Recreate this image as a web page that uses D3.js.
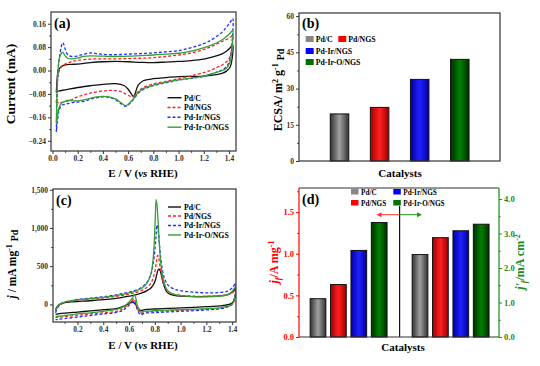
<!DOCTYPE html>
<html><head><meta charset="utf-8">
<script src="https://cdn.jsdelivr.net/npm/d3@7"></script>
<style>
body{margin:0;background:#fff}
svg{font-family:"Liberation Serif","Times New Roman",serif;font-weight:bold}
</style></head><body>
<svg width="540" height="366"></svg>
<script>
// ---------- DATA ----------
const seriesNames = ["Pd/C", "Pd/NGS", "Pd-Ir/NGS", "Pd-Ir-O/NGS"];
const seriesColors = ["#111111", "#ff2020", "#2030ff", "#35a035"];
const seriesDash = [null, "3,2", "3,2", null];

// (a) CV in KOH, [E, I(mA)] forward then reverse
const aPdC = [[0.03,-0.075],[0.035,-0.04],[0.04,-0.012],[0.05,0.004],[0.07,0.014],[0.1,0.019],[0.15,0.021],[0.2,0.022],[0.3,0.027],[0.4,0.03],[0.5,0.031],[0.6,0.03],[0.7,0.028],[0.8,0.027],[0.9,0.029],[1.0,0.031],[1.1,0.034],[1.2,0.039],[1.25,0.044],[1.3,0.05],[1.35,0.058],[1.38,0.066],[1.41,0.078],[1.43,0.088],
  [1.425,0.04],[1.41,0.012],[1.38,-0.002],[1.35,-0.009],[1.3,-0.014],[1.2,-0.019],[1.1,-0.02],[1.0,-0.021],[0.9,-0.024],[0.8,-0.028],[0.72,-0.035],[0.68,-0.05],[0.655,-0.08],[0.645,-0.09],[0.63,-0.083],[0.6,-0.064],[0.57,-0.052],[0.5,-0.045],[0.4,-0.047],[0.3,-0.052],[0.2,-0.058],[0.1,-0.066],[0.05,-0.07],[0.03,-0.075]];
const aPdNGS = [[0.03,-0.11],[0.035,-0.07],[0.04,-0.03],[0.05,-0.006],[0.07,0.012],[0.1,0.022],[0.15,0.03],[0.2,0.035],[0.3,0.039],[0.4,0.04],[0.5,0.04],[0.6,0.041],[0.7,0.042],[0.8,0.044],[0.9,0.048],[1.0,0.053],[1.1,0.06],[1.2,0.072],[1.25,0.08],[1.3,0.09],[1.35,0.1],[1.38,0.106],[1.41,0.113],[1.43,0.12],
  [1.42,0.07],[1.4,0.04],[1.35,0.02],[1.3,0.01],[1.25,0.0],[1.2,-0.007],[1.1,-0.018],[1.0,-0.028],[0.9,-0.037],[0.8,-0.046],[0.72,-0.058],[0.68,-0.072],[0.65,-0.086],[0.62,-0.088],[0.58,-0.08],[0.55,-0.073],[0.5,-0.069],[0.45,-0.068],[0.4,-0.07],[0.3,-0.077],[0.2,-0.09],[0.15,-0.1],[0.1,-0.107],[0.05,-0.11],[0.03,-0.11]];
const aPdIrNGS = [[0.03,-0.21],[0.033,-0.15],[0.037,-0.08],[0.042,-0.02],[0.05,0.03],[0.06,0.06],[0.07,0.083],[0.08,0.095],[0.09,0.089],[0.1,0.074],[0.12,0.055],[0.15,0.048],[0.2,0.05],[0.25,0.056],[0.3,0.06],[0.35,0.058],[0.4,0.055],[0.5,0.054],[0.6,0.056],[0.7,0.058],[0.8,0.06],[0.9,0.064],[1.0,0.068],[1.1,0.078],[1.2,0.092],[1.25,0.102],[1.3,0.116],[1.35,0.133],[1.38,0.148],[1.41,0.165],[1.43,0.178],
  [1.425,0.1],[1.41,0.04],[1.38,0.013],[1.35,0.003],[1.3,-0.006],[1.2,-0.02],[1.1,-0.027],[1.0,-0.033],[0.9,-0.042],[0.8,-0.052],[0.72,-0.065],[0.68,-0.078],[0.64,-0.1],[0.6,-0.118],[0.58,-0.122],[0.55,-0.115],[0.5,-0.1],[0.45,-0.092],[0.4,-0.09],[0.35,-0.093],[0.3,-0.098],[0.25,-0.105],[0.2,-0.108],[0.15,-0.11],[0.12,-0.113],[0.1,-0.115],[0.07,-0.12],[0.05,-0.14],[0.04,-0.17],[0.03,-0.21]];
const aPdIrONGS = [[0.03,-0.18],[0.033,-0.12],[0.037,-0.06],[0.042,-0.01],[0.05,0.03],[0.06,0.05],[0.07,0.06],[0.08,0.063],[0.09,0.058],[0.1,0.05],[0.12,0.042],[0.15,0.04],[0.2,0.043],[0.25,0.048],[0.3,0.05],[0.4,0.049],[0.5,0.048],[0.6,0.049],[0.7,0.051],[0.8,0.053],[0.9,0.056],[1.0,0.059],[1.1,0.066],[1.2,0.078],[1.25,0.085],[1.3,0.094],[1.35,0.106],[1.38,0.116],[1.41,0.128],[1.43,0.138],
  [1.425,0.08],[1.41,0.03],[1.38,0.008],[1.35,0.0],[1.3,-0.006],[1.2,-0.019],[1.1,-0.026],[1.0,-0.032],[0.9,-0.04],[0.8,-0.05],[0.72,-0.062],[0.68,-0.075],[0.64,-0.098],[0.6,-0.115],[0.58,-0.12],[0.55,-0.112],[0.5,-0.097],[0.45,-0.09],[0.4,-0.088],[0.35,-0.09],[0.3,-0.095],[0.25,-0.1],[0.2,-0.104],[0.15,-0.103],[0.12,-0.102],[0.1,-0.105],[0.07,-0.112],[0.05,-0.13],[0.04,-0.155],[0.03,-0.18]];
const aXTicks = [0, 0.2, 0.4, 0.6, 0.8, 1.0, 1.2, 1.4];
const aYTicks = [-0.24, -0.16, -0.08, 0, 0.08, 0.16];

// (b) ECSA
const bValues = [19.5, 22.2, 33.8, 42.1];
const bYTicks = [0, 15, 30, 45, 60];

// (c) ethanol oxidation CV, [E, j(mA mg-1)]
const cPdC = [[0.03,-70],[0.04,-35],[0.06,0],[0.1,22],[0.15,32],[0.2,38],[0.3,48],[0.4,62],[0.5,80],[0.55,92],[0.6,108],[0.65,125],[0.7,150],[0.74,180],[0.77,215],[0.79,260],[0.805,320],[0.815,390],[0.825,450],[0.832,462],[0.84,448],[0.85,390],[0.862,300],[0.877,220],[0.89,170],[0.91,140],[0.95,118],[1.0,108],[1.1,102],[1.2,104],[1.3,112],[1.36,125],[1.4,160],[1.43,210],
  [1.42,80],[1.4,20],[1.35,-10],[1.3,-20],[1.2,-30],[1.1,-38],[1.0,-45],[0.9,-52],[0.8,-60],[0.72,-68],[0.69,-80],[0.67,-45],[0.645,10],[0.625,35],[0.6,10],[0.55,-30],[0.5,-55],[0.4,-70],[0.3,-85],[0.2,-100],[0.1,-115],[0.05,-125],[0.03,-130]];
const cPdNGS = [[0.03,-90],[0.04,-50],[0.06,-10],[0.1,25],[0.15,45],[0.2,58],[0.3,72],[0.4,85],[0.5,105],[0.55,118],[0.6,135],[0.65,155],[0.7,185],[0.74,225],[0.77,280],[0.79,360],[0.805,470],[0.815,590],[0.822,640],[0.83,610],[0.84,500],[0.855,360],[0.87,260],[0.89,195],[0.91,160],[0.95,130],[1.0,118],[1.1,108],[1.2,106],[1.3,112],[1.36,125],[1.4,150],[1.43,190],
  [1.42,60],[1.4,0],[1.35,-40],[1.3,-55],[1.2,-65],[1.1,-72],[1.0,-78],[0.9,-85],[0.8,-92],[0.72,-100],[0.69,-118],[0.67,-70],[0.65,20],[0.64,75],[0.62,40],[0.58,-20],[0.55,-60],[0.5,-90],[0.4,-110],[0.3,-125],[0.2,-145],[0.1,-160],[0.05,-168],[0.03,-170]];
const cPdIrNGS = [[0.03,-110],[0.04,-60],[0.06,-10],[0.1,30],[0.15,50],[0.2,65],[0.3,82],[0.4,100],[0.5,125],[0.55,142],[0.6,160],[0.65,185],[0.7,225],[0.74,290],[0.77,400],[0.79,560],[0.8,700],[0.81,900],[0.817,1040],[0.825,980],[0.835,800],[0.845,620],[0.86,440],[0.875,340],[0.89,280],[0.91,240],[0.95,200],[1.0,180],[1.1,160],[1.2,152],[1.3,155],[1.36,170],[1.4,215],[1.43,280],
  [1.42,100],[1.4,10],[1.35,-40],[1.3,-58],[1.2,-72],[1.1,-82],[1.0,-90],[0.9,-98],[0.8,-108],[0.72,-115],[0.69,-135],[0.67,-90],[0.65,0],[0.64,45],[0.62,20],[0.58,-40],[0.55,-80],[0.5,-105],[0.4,-125],[0.3,-145],[0.2,-165],[0.1,-185],[0.05,-195],[0.03,-200]];
const cPdIrONGS = [[0.03,-80],[0.04,-40],[0.06,0],[0.1,30],[0.15,48],[0.2,60],[0.3,75],[0.4,92],[0.5,115],[0.55,130],[0.6,150],[0.65,175],[0.7,215],[0.74,280],[0.77,400],[0.785,560],[0.795,800],[0.803,1100],[0.81,1370],[0.817,1300],[0.825,1100],[0.835,800],[0.845,560],[0.86,380],[0.875,270],[0.89,205],[0.91,165],[0.95,130],[1.0,115],[1.1,102],[1.2,100],[1.3,108],[1.36,125],[1.4,170],[1.43,240],
  [1.42,80],[1.4,0],[1.35,-30],[1.3,-45],[1.2,-55],[1.1,-62],[1.0,-68],[0.9,-75],[0.8,-82],[0.72,-88],[0.69,-100],[0.67,-40],[0.655,60],[0.645,125],[0.62,70],[0.58,0],[0.54,-45],[0.5,-65],[0.4,-90],[0.3,-110],[0.2,-125],[0.1,-145],[0.05,-155],[0.03,-160]];
const cXTicks = [0.2, 0.4, 0.6, 0.8, 1.0, 1.2, 1.4];
const cYTicks = [0, 500, 1000, 1500];

// (d) mass activity (A mg-1) and specific activity (mA cm-2)
const dMass = [0.46, 0.63, 1.04, 1.375];
const dSpecific = [2.39, 2.88, 3.08, 3.27];
const dYTicksL = [0, 0.5, 1.0, 1.5];
const dYTicksR = [0, 1, 2, 3, 4];

// ---------- DRAW ----------
const svg = d3.select("svg");
const defs = svg.append("defs");
const barBase = [["#333333", "#a0a0a0"], ["#a00000", "#ff2020"], ["#0000a0", "#2020ff"], ["#003000", "#008000"]];
barBase.forEach((c, i) => {
  const gr = defs.append("linearGradient").attr("id", "bg" + i).attr("x1", "0").attr("x2", "1").attr("y1", "0").attr("y2", "0");
  gr.append("stop").attr("offset", "0").attr("stop-color", c[0]);
  gr.append("stop").attr("offset", "0.5").attr("stop-color", c[1]);
  gr.append("stop").attr("offset", "1").attr("stop-color", c[0]);
});
const swatch = ["#888888", "#ff0000", "#0000ff", "#007000"];

function styleAxis(g, color, fs) {
  g.select(".domain").remove();
  g.selectAll("line").attr("stroke", color).attr("stroke-width", 1);
  g.selectAll("text").attr("fill", color).style("font-size", fs + "px").style("font-weight", "bold")
    .style("font-family", "'Liberation Serif',serif");
}
function minor(vals) { const out = []; for (let i = 0; i < vals.length - 1; i++) out.push((vals[i] + vals[i + 1]) / 2); return out; }
function frame(x0, y0, x1, y1, col) {
  svg.append("rect").attr("x", x0).attr("y", y0).attr("width", x1 - x0).attr("height", y1 - y0)
    .attr("fill", "none").attr("stroke", col || "#333").attr("stroke-width", 1.2);
}
function clip(id, x0, y0, x1, y1) {
  defs.append("clipPath").attr("id", id).append("rect").attr("x", x0).attr("y", y0).attr("width", x1 - x0).attr("height", y1 - y0);
}

// ===== Panel (a) =====
const xa = d3.scaleLinear().domain([-0.012, 1.456]).range([51, 236]);
const ya = d3.scaleLinear().domain([-0.275, 0.2]).range([151, 12]);
clip("ca", 51, 12, 236, 151);
const aData = [aPdC, aPdNGS, aPdIrNGS, aPdIrONGS];
const la = d3.line().x(d => xa(d[0])).y(d => ya(d[1])).curve(d3.curveCatmullRom.alpha(0.5));
const ga = svg.append("g").attr("clip-path", "url(#ca)");
aData.forEach((s, i) => ga.append("path").attr("d", la(s)).attr("fill", "none").attr("stroke", seriesColors[i])
  .attr("stroke-width", 1.3).attr("stroke-dasharray", seriesDash[i]));
svg.append("g").attr("transform", "translate(51,0)").call(d3.axisLeft(ya).tickValues(aYTicks).tickSize(3).tickPadding(2).tickFormat(d3.format(".2f"))).call(g => styleAxis(g, "#333", 7.5));
svg.append("g").attr("transform", "translate(51,0)").call(d3.axisLeft(ya).tickValues(minor(aYTicks)).tickSize(1.8).tickFormat("")).call(g => styleAxis(g, "#333", 7));
svg.append("g").attr("transform", "translate(0,151)").call(d3.axisBottom(xa).tickValues(aXTicks).tickSize(3).tickPadding(2).tickFormat(d3.format(".1f"))).call(g => styleAxis(g, "#333", 7.5));
svg.append("g").attr("transform", "translate(0,151)").call(d3.axisBottom(xa).tickValues(minor(aXTicks)).tickSize(1.8).tickFormat("")).call(g => styleAxis(g, "#333", 7));
frame(51, 12, 236, 151);
svg.append("text").attr("x", 54).attr("y", 28).style("font-size", "14px").text("(a)");
svg.append("text").attr("transform", "translate(15,84) rotate(-90)").attr("text-anchor", "middle").style("font-size", "13.5px").text("Current (mA)");
svg.append("text").attr("x", 143).attr("y", 177).attr("text-anchor", "middle").style("font-size", "11px")
  .call(t => { t.append("tspan").text("E / V ("); t.append("tspan").style("font-style", "italic").text("vs"); t.append("tspan").text(" RHE)"); });
const aLegY = [97.7, 107.5, 117.3, 127.2];
seriesNames.forEach((n, i) => {
  svg.append("line").attr("x1", 167.5).attr("x2", 181.5).attr("y1", aLegY[i]).attr("y2", aLegY[i])
    .attr("stroke", seriesColors[i]).attr("stroke-width", 1.4).attr("stroke-dasharray", seriesDash[i]);
  svg.append("text").attr("x", 184).attr("y", aLegY[i] + 2.8).style("font-size", "7.8px").text(n);
});

// ===== Panel (b) =====
const xb = d3.scalePoint().domain(seriesNames).range([339.5, 459.8]);
const yb = d3.scaleLinear().domain([0, 61.3]).range([161, 13]);
const bw = 18.5;
svg.append("g").selectAll("rect").data(bValues).join("rect")
  .attr("x", (d, i) => xb(seriesNames[i]) - bw / 2).attr("y", d => yb(d))
  .attr("width", bw).attr("height", d => yb(0) - yb(d))
  .attr("fill", (d, i) => `url(#bg${i})`).attr("stroke", "#111").attr("stroke-width", 1);
svg.append("g").attr("transform", "translate(299,0)").call(d3.axisLeft(yb).tickValues(bYTicks).tickSize(3).tickPadding(2)).call(g => styleAxis(g, "#333", 7.5));
svg.append("g").attr("transform", "translate(299,0)").call(d3.axisLeft(yb).tickValues(minor(bYTicks)).tickSize(1.8).tickFormat("")).call(g => styleAxis(g, "#333", 7));
frame(299, 13, 500, 161);
svg.append("text").attr("x", 302).attr("y", 28).style("font-size", "14px").text("(b)");
svg.append("text").attr("x", 400).attr("y", 177).attr("text-anchor", "middle").style("font-size", "11px").text("Catalysts");
svg.append("text").attr("transform", "translate(282,90) rotate(-90)").attr("text-anchor", "middle").style("font-size", "12px")
  .call(t => {
    t.append("tspan").text("ECSA/ m");
    t.append("tspan").attr("dy", -4).style("font-size", "8px").text("2");
    t.append("tspan").attr("dy", 4).text(" g");
    t.append("tspan").attr("dy", -4).style("font-size", "8px").text("-1");
    t.append("tspan").attr("dy", 4).text(" ");
    t.append("tspan").attr("dy", 2).style("font-size", "10px").text("Pd");
  });
const bLeg = [[305.7, 39], [338.3, 39], [305.7, 51], [305.7, 62]];
seriesNames.forEach((n, i) => {
  svg.append("rect").attr("x", bLeg[i][0]).attr("y", bLeg[i][1] - 3).attr("width", 8).attr("height", 6).attr("fill", swatch[i]);
  svg.append("text").attr("x", bLeg[i][0] + 10).attr("y", bLeg[i][1] + 2.8).style("font-size", "7.8px").text(n);
});

// ===== Panel (c) =====
const xc = d3.scaleLinear().domain([0.01, 1.43]).range([53, 236]);
const yc = d3.scaleLinear().domain([-230, 1510]).range([322, 189]);
clip("cc", 53, 189, 236, 322);
const cData = [cPdC, cPdNGS, cPdIrNGS, cPdIrONGS];
const lc = d3.line().x(d => xc(d[0])).y(d => yc(d[1])).curve(d3.curveCatmullRom.alpha(0.5));
const gc = svg.append("g").attr("clip-path", "url(#cc)");
cData.forEach((s, i) => gc.append("path").attr("d", lc(s)).attr("fill", "none").attr("stroke", seriesColors[i])
  .attr("stroke-width", 1.3).attr("stroke-dasharray", seriesDash[i]));
svg.append("g").attr("transform", "translate(53,0)").call(d3.axisLeft(yc).tickValues(cYTicks).tickSize(3).tickPadding(2)).call(g => styleAxis(g, "#333", 7.5));
svg.append("g").attr("transform", "translate(53,0)").call(d3.axisLeft(yc).tickValues(minor(cYTicks)).tickSize(1.8).tickFormat("")).call(g => styleAxis(g, "#333", 7));
svg.append("g").attr("transform", "translate(0,322)").call(d3.axisBottom(xc).tickValues(cXTicks).tickSize(3).tickPadding(2).tickFormat(d3.format(".1f"))).call(g => styleAxis(g, "#333", 7.5));
svg.append("g").attr("transform", "translate(0,322)").call(d3.axisBottom(xc).tickValues([0.1, 0.3, 0.5, 0.7, 0.9, 1.1, 1.3]).tickSize(1.8).tickFormat("")).call(g => styleAxis(g, "#333", 7));
frame(53, 189, 236, 322);
svg.append("text").attr("x", 56).attr("y", 205).style("font-size", "14px").text("(c)");
svg.append("text").attr("x", 143).attr("y", 349).attr("text-anchor", "middle").style("font-size", "11px")
  .call(t => { t.append("tspan").text("E / V ("); t.append("tspan").style("font-style", "italic").text("vs"); t.append("tspan").text(" RHE)"); });
svg.append("text").attr("transform", "translate(16,264) rotate(-90)").attr("text-anchor", "middle").style("font-size", "11.5px")
  .call(t => {
    t.append("tspan").style("font-style", "italic").text("j");
    t.append("tspan").text(" / mA mg");
    t.append("tspan").attr("dy", -4).style("font-size", "8px").text("-1");
    t.append("tspan").attr("dy", 4).text(" ");
    t.append("tspan").attr("dy", 2).style("font-size", "10px").text("Pd");
  });
const cLegY = [207, 216, 225.5, 235];
seriesNames.forEach((n, i) => {
  svg.append("line").attr("x1", 168).attr("x2", 181).attr("y1", cLegY[i]).attr("y2", cLegY[i])
    .attr("stroke", seriesColors[i]).attr("stroke-width", 1.4).attr("stroke-dasharray", seriesDash[i]);
  svg.append("text").attr("x", 184).attr("y", cLegY[i] + 2.8).style("font-size", "7.8px").text(n);
});

// ===== Panel (d) =====
const xd = d3.scaleLinear().domain([0, 8]).range([318, 481.2]);
const ydl = d3.scaleLinear().domain([0, 1.79]).range([337, 188]);
const ydr = d3.scaleLinear().domain([0, 4.32]).range([337, 188]);
const dw = 15.7;
const dg = svg.append("g");
dg.selectAll(".m").data(dMass).join("rect").attr("class", "m")
  .attr("x", (d, i) => xd(i) - dw / 2).attr("y", d => ydl(d)).attr("width", dw).attr("height", d => ydl(0) - ydl(d))
  .attr("fill", (d, i) => `url(#bg${i})`).attr("stroke", "#111").attr("stroke-width", 1);
dg.selectAll(".s").data(dSpecific).join("rect").attr("class", "s")
  .attr("x", (d, i) => xd(i + 5) - dw / 2).attr("y", d => ydr(d)).attr("width", dw).attr("height", d => ydr(0) - ydr(d))
  .attr("fill", (d, i) => `url(#bg${i})`).attr("stroke", "#111").attr("stroke-width", 1);
svg.append("line").attr("x1", xd(4)).attr("x2", xd(4)).attr("y1", 206).attr("y2", 337).attr("stroke", "#111").attr("stroke-width", 1.2);
// arrows
const ay = 214.7;
svg.append("line").attr("x1", xd(4)).attr("x2", 380).attr("y1", ay).attr("y2", ay).attr("stroke", "#ff3030").attr("stroke-width", 1);
svg.append("path").attr("d", `M376.5,${ay} L381.5,${ay - 2.5} L381.5,${ay + 2.5} Z`).attr("fill", "#ff3030");
svg.append("line").attr("x1", xd(4)).attr("x2", 418).attr("y1", ay).attr("y2", ay).attr("stroke", "#1a9a1a").attr("stroke-width", 1);
svg.append("path").attr("d", `M422,${ay} L417,${ay - 2.5} L417,${ay + 2.5} Z`).attr("fill", "#1a9a1a");

svg.append("g").attr("transform", "translate(299,0)").call(d3.axisLeft(ydl).tickValues(dYTicksL).tickSize(3).tickPadding(2).tickFormat(d3.format(".1f"))).call(g => styleAxis(g, "#ff0000", 8.5));
svg.append("g").attr("transform", "translate(299,0)").call(d3.axisLeft(ydl).tickValues([0.25, 0.75, 1.25, 1.75]).tickSize(1.8).tickFormat("")).call(g => styleAxis(g, "#ff0000", 7));
svg.append("g").attr("transform", "translate(499,0)").call(d3.axisRight(ydr).tickValues(dYTicksR).tickSize(3).tickPadding(2)).call(g => styleAxis(g, "#1a8a1a", 8.5));
svg.append("g").attr("transform", "translate(499,0)").call(d3.axisRight(ydr).tickValues([0.5, 1.5, 2.5, 3.5]).tickSize(1.8).tickFormat("")).call(g => styleAxis(g, "#1a8a1a", 7));
svg.append("line").attr("x1", 299).attr("x2", 499).attr("y1", 188).attr("y2", 188).attr("stroke", "#333").attr("stroke-width", 1.2);
svg.append("line").attr("x1", 299).attr("x2", 499).attr("y1", 337).attr("y2", 337).attr("stroke", "#333").attr("stroke-width", 1.2);
svg.append("line").attr("x1", 299).attr("x2", 299).attr("y1", 188).attr("y2", 337).attr("stroke", "#ff0000").attr("stroke-width", 1.2);
svg.append("line").attr("x1", 499).attr("x2", 499).attr("y1", 188).attr("y2", 337).attr("stroke", "#1a8a1a").attr("stroke-width", 1.2);
svg.append("text").attr("x", 302).attr("y", 204).style("font-size", "14px").text("(d)");
svg.append("text").attr("x", 403).attr("y", 351).attr("text-anchor", "middle").style("font-size", "11px").text("Catalysts");
svg.append("text").attr("transform", "translate(278,262) rotate(-90)").attr("text-anchor", "middle").style("font-size", "12px").attr("fill", "#ff0000")
  .call(t => {
    t.append("tspan").style("font-style", "italic").text("j");
    t.append("tspan").attr("dy", 3).style("font-size", "8px").style("font-style", "italic").text("f");
    t.append("tspan").attr("dy", -3).text("/A mg");
    t.append("tspan").attr("dy", -4).style("font-size", "8px").text("-1");
  });
svg.append("text").attr("transform", "translate(524,262) rotate(-90)").attr("text-anchor", "middle").style("font-size", "12px").attr("fill", "#1a8a1a")
  .call(t => {
    t.append("tspan").style("font-style", "italic").text("j'");
    t.append("tspan").attr("dy", 3).style("font-size", "8px").style("font-style", "italic").text("f");
    t.append("tspan").attr("dy", -3).text("/mA cm");
    t.append("tspan").attr("dy", -4).style("font-size", "8px").text("-2");
  });
const dLeg = [[351, 192], [351, 203], [393.3, 192], [393.3, 203]];
seriesNames.forEach((n, i) => {
  svg.append("rect").attr("x", dLeg[i][0]).attr("y", dLeg[i][1] - 3).attr("width", 7.5).attr("height", 5.5).attr("fill", swatch[i]);
  svg.append("text").attr("x", dLeg[i][0] + 10).attr("y", dLeg[i][1] + 2.6).style("font-size", "7.2px").text(n);
});
</script></body></html>
